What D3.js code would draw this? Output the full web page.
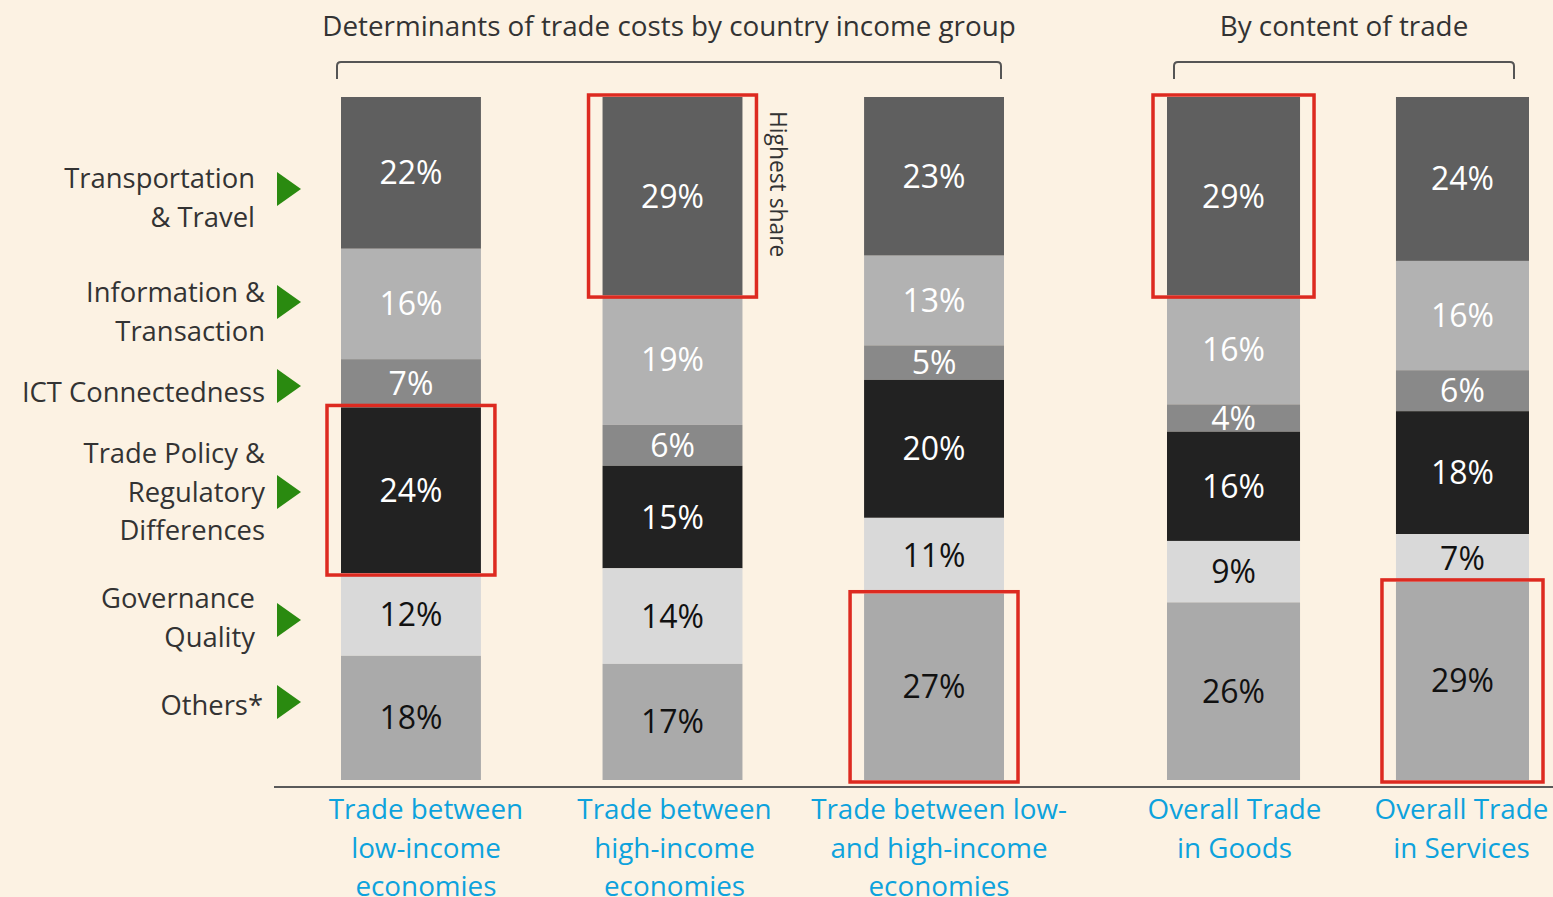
<!DOCTYPE html>
<html>
<head>
<meta charset="utf-8">
<script src="https://cdn.jsdelivr.net/npm/d3@7"></script>
<style>
  html, body { margin: 0; padding: 0; background: #FCF2E3; }
  svg { display: block; font-family: "Open Sans", Lato, sans-serif; }
</style>
</head>
<body>
<div id="chart"></div>
<script>
// ---- data ----
const categories = ["lowlow", "highhigh", "lowhigh", "goods", "services"];
const categoryLines = [
    ["Trade between", "low-income", "economies"],
    ["Trade between", "high-income", "economies"],
    ["Trade between low-", "and high-income", "economies"],
    ["Overall Trade", "in Goods"],
    ["Overall Trade", "in Services"]
];
const seriesKeys = ["transport", "info", "ict", "policy", "governance", "others"];
const seriesLabels = [
    ["Transportation", "& Travel"],
    ["Information &", "Transaction"],
    ["ICT Connectedness"],
    ["Trade Policy &", "Regulatory", "Differences"],
    ["Governance", "Quality"],
    ["Others*"]
];
const transport  = [22, 29, 23, 29, 24];
const info       = [16, 19, 13, 16, 16];
const ict        = [7, 6, 5, 4, 6];
const policy     = [24, 15, 20, 16, 18];
const governance = [12, 14, 11, 9, 7];
const others     = [18, 17, 27, 26, 29];
const groupTitles = ["Determinants of trade costs by country income group", "By content of trade"];
// highlighted segments: [category index, series index]
const highlights = [[0, 3], [1, 0], [2, 5], [3, 0], [4, 5]];

// ---- layout ----
const width = 1553, height = 897;
const barTop = 97, barBottom = 780;
const colors = ["#5F5F5F", "#B2B2B2", "#898989", "#222222", "#D9D9D9", "#AAAAAA"];
const labelColors = ["#fff", "#fff", "#fff", "#fff", "#111", "#111"];
const legendTriY = [189, 302, 386, 492, 620, 702];
const legendTextY = [188, 302, 402, 463, 608, 715];
const legendRight = [255, 265, 265, 265, 255, 263];
const catLabelDx = [15, 2, 5, 1, -1];

const table = categories.map((c, i) => ({
    cat: c,
    transport: transport[i], info: info[i], ict: ict[i],
    policy: policy[i], governance: governance[i], others: others[i]
}));

const stack = d3.stack().keys(seriesKeys).offset(d3.stackOffsetExpand);
const series = stack(table);

// two groups of bars with different spacing
const xLeft = d3.scaleBand().domain(categories.slice(0, 3)).range([341, 1004]).paddingInner(0.465).paddingOuter(0);
const xRight = d3.scaleBand().domain(categories.slice(3)).range([1167, 1529]).paddingInner(0.419).paddingOuter(0);
const xPos = c => categories.indexOf(c) < 3 ? xLeft(c) : xRight(c);
const bw = c => categories.indexOf(c) < 3 ? xLeft.bandwidth() : xRight.bandwidth();

const y = d3.scaleLinear().domain([0, 1]).range([barTop, barBottom]);

const svg = d3.select("#chart").append("svg")
    .attr("width", width)
    .attr("height", height);

svg.append("rect").attr("width", width).attr("height", height).attr("fill", "#FCF2E3");

// bars
const layer = svg.append("g").selectAll("g")
    .data(series)
    .join("g")
    .attr("fill", (d, i) => colors[i]);

layer.selectAll("rect")
    .data(d => d)
    .join("rect")
    .attr("x", d => xPos(d.data.cat))
    .attr("y", d => y(d[0]))
    .attr("width", d => bw(d.data.cat))
    .attr("height", d => y(d[1]) - y(d[0]));

// value labels
series.forEach((s, si) => {
    svg.append("g").selectAll("text")
        .data(s)
        .join("text")
        .attr("x", d => xPos(d.data.cat) + bw(d.data.cat) / 2)
        .attr("y", d => (y(d[0]) + y(d[1])) / 2)
        .attr("dy", "0.36em")
        .attr("text-anchor", "middle")
        .attr("font-size", 32)
        .attr("fill", labelColors[si])
        .text(d => d.data[s.key] + "%");
});

// red highlight boxes
svg.append("g").selectAll("rect")
    .data(highlights)
    .join("rect")
    .attr("x", d => xPos(categories[d[0]]) - 14)
    .attr("y", d => y(series[d[1]][d[0]][0]) - 2)
    .attr("width", d => bw(categories[d[0]]) + 28)
    .attr("height", d => y(series[d[1]][d[0]][1]) - y(series[d[1]][d[0]][0]) + 4)
    .attr("fill", "none")
    .attr("stroke", "#DD2A20")
    .attr("stroke-width", 3.5);

// "Highest share" note
svg.append("text")
    .attr("transform", "translate(770,111) rotate(90)")
    .attr("font-size", 22.8)
    .attr("fill", "#333")
    .text("Highest share");

// baseline
svg.append("line")
    .attr("x1", 274).attr("x2", width)
    .attr("y1", 787).attr("y2", 787)
    .attr("stroke", "#5A5A5A")
    .attr("stroke-width", 2);

// category labels
categories.forEach((c, i) => {
    svg.append("text")
        .attr("x", xPos(c) + bw(c) / 2 + catLabelDx[i])
        .attr("y", 819)
        .attr("text-anchor", "middle")
        .attr("font-size", 27.8)
        .attr("fill", "#0DA2DD")
        .selectAll("tspan")
        .data(categoryLines[i])
        .join("tspan")
        .attr("x", xPos(c) + bw(c) / 2 + catLabelDx[i])
        .attr("dy", (d, j) => j === 0 ? 0 : 38.5)
        .text(d => d);
});

// group brackets and titles
const brackets = [[337, 1001], [1174, 1514]];
brackets.forEach((b, i) => {
    const [x1, x2] = b;
    svg.append("path")
        .attr("d", `M${x1},79 L${x1},66 Q${x1},62 ${x1 + 4},62 L${x2 - 4},62 Q${x2},62 ${x2},66 L${x2},79`)
        .attr("fill", "none")
        .attr("stroke", "#555")
        .attr("stroke-width", 2);
    svg.append("text")
        .attr("x", (x1 + x2) / 2)
        .attr("y", 36)
        .attr("text-anchor", "middle")
        .attr("font-size", 27.8)
        .attr("fill", "#333")
        .text(groupTitles[i]);
});

// legend on the left
seriesLabels.forEach((lines, i) => {
    const ty = legendTriY[i];
    svg.append("path")
        .attr("d", `M277,${ty - 17} L301,${ty} L277,${ty + 17} Z`)
        .attr("fill", "#2A8A10");
    svg.append("text")
        .attr("y", legendTextY[i])
        .attr("text-anchor", "end")
        .attr("font-size", 27.4)
        .attr("fill", "#333")
        .selectAll("tspan")
        .data(lines)
        .join("tspan")
        .attr("x", legendRight[i])
        .attr("dy", (d, j) => j === 0 ? 0 : 38.5)
        .text(d => d);
});
</script>
</body>
</html>
